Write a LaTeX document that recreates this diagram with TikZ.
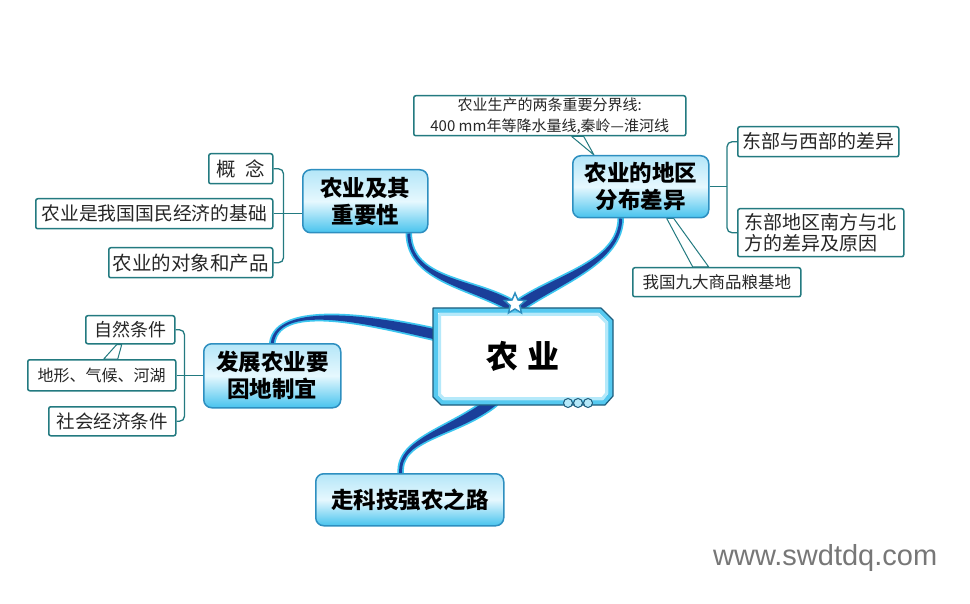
\documentclass[tikz,border=0pt]{standalone}
\usepackage{fontspec}
\setmainfont{Noto Sans CJK SC}
\newfontfamily\wmfont{Liberation Sans}
\usetikzlibrary{calc,shapes.geometric}
\pgfdeclarelayer{bg}
\pgfsetlayers{bg,main}
\definecolor{mainborder}{HTML}{2E8FC0}
\definecolor{boxtop}{HTML}{B4E6F8}
\definecolor{boxmid}{HTML}{E6F8FE}
\definecolor{boxbot}{HTML}{47C3EE}
\definecolor{leafline}{HTML}{237A80}
\definecolor{glow}{HTML}{3CC6F0}
\definecolor{core}{HTML}{1A3F9A}
\definecolor{darkedge}{HTML}{1D5D7D}
\definecolor{band}{HTML}{55C9F0}
\definecolor{softband}{HTML}{B5E9FA}
\definecolor{wm}{HTML}{777777}
\newcommand\tapershape[7]{%
 \path[#1] ($(#2)!#6!90:(#3)$) .. controls ($(#3)!#6!-90:(#2)$) and ($(#4)!#7!90:(#5)$) .. ($(#5)!#7!-90:(#4)$) -- ($(#5)!#7!90:(#4)$) .. controls ($(#4)!#7!-90:(#5)$) and ($(#3)!#6!90:(#2)$) .. ($(#2)!#6!-90:(#3)$) -- cycle;}
\tikzset{
 mainbox/.style={draw=mainborder, line width=1.5pt, rounded corners=8pt, top color=boxtop, bottom color=boxbot, middle color=boxmid, align=center, font=\fontsize{22.5}{27}\selectfont\bfseries, inner sep=0pt, anchor=north west},
 leaf/.style={draw=leafline, line width=1.5pt, rounded corners=2pt, fill=white, inner sep=0pt, anchor=north west, font=\fontsize{19.5}{22}\selectfont, text=black!85},
 bracket/.style={draw=leafline, line width=1.3pt, rounded corners=5pt},
 pointer/.style={draw=leafline, line width=1pt, fill=white, line join=round},
 glowline/.style={draw=glow, line width=3.5pt, fill=glow, line join=round},
 coreline/.style={fill=core},
}
\begin{document}
\begin{tikzpicture}[x=1pt,y=-1pt]
\useasboundingbox (0,0) rectangle (970,604);
\begin{pgfonlayer}{bg}
\fill[white] (0,0) rectangle (970,604);
\end{pgfonlayer}

% main branch boxes
\node[mainbox, minimum width=125pt, minimum height=63pt] (imp) at (302,169) {农业及其\\重要性};
\node[mainbox, minimum width=136pt, minimum height=62pt] (reg) at (572,155) {农业的地区\\分布差异};
\node[mainbox, minimum width=137pt, minimum height=64pt] (dev) at (203,343) {发展农业要\\因地制宜};
\node[mainbox, minimum width=188pt, minimum height=52pt] (sci) at (315,473) {走科技强农之路};

% leaves
\node[leaf, minimum width=64pt, minimum height=30pt] (gn) at (208,153) {概\hspace{9pt}念};
\node[leaf, minimum width=237pt, minimum height=30pt, font=\fontsize{18.8}{22}\selectfont] (jc) at (35,198) {农业是我国国民经济的基础};
\node[leaf, minimum width=164pt, minimum height=30pt] (cp) at (108,247) {农业的对象和产品};
\node[leaf, minimum width=161pt, minimum height=30pt, font=\fontsize{19}{22}\selectfont] (ew) at (737,126) {东部与西部的差异};
\node[leaf, minimum width=166pt, minimum height=48pt, align=left, font=\fontsize{19}{21}\selectfont] (ns) at (737,208) {东部地区南方与北\\方的差异及原因};
\node[leaf, minimum width=272pt, minimum height=40pt, align=center, font=\fontsize{15}{21}\selectfont] (top) at (413,95) {农业生产的两条重要分界线:\\400 mm年等降水量线,秦岭—淮河线};
\node[leaf, minimum width=168pt, minimum height=29pt, font=\fontsize{16.5}{18}\selectfont] (grain) at (632,267) {我国九大商品粮基地};
\node[leaf, minimum width=89pt, minimum height=28pt, font=\fontsize{18}{20}\selectfont] (nat) at (85,315) {自然条件};
\node[leaf, minimum width=148pt, minimum height=31pt, font=\fontsize{16}{18}\selectfont] (geo) at (27,359) {地形、气候、河湖};
\node[leaf, minimum width=127pt, minimum height=29pt, font=\fontsize{18.5}{20}\selectfont] (soc) at (48,406) {社会经济条件};

% center box decoration
\fill[band] (433,308) -- (601,308) -- (613,320) -- (613,396) -- (605,405) -- (441,405) -- (433,397) -- cycle;
\fill[white] (438,313) -- (599,313) -- (608,322) -- (608,394) -- (603,400) -- (443,400) -- (438,395) -- cycle;
\draw[softband, line width=3pt, line join=round] (439.5,314.5) -- (598.5,314.5) -- (606.5,322.5) -- (606.5,393.5) -- (602.5,398.5) -- (443.5,398.5) -- (439.5,394.5) -- cycle;
\draw[darkedge, line width=1.2pt, line join=round] (433,308) -- (601,308) -- (613,320) -- (613,396) -- (605,405) -- (441,405) -- (433,397) -- cycle;
\foreach \cx in {568,578,588}
  \draw[darkedge, fill=softband, line width=1pt] (\cx,403) circle (4.5);
\node[font=\fontsize{32}{32}\selectfont\bfseries, minimum width=180pt, minimum height=97pt] (ctr) at (523,356.5) {农\hspace{10pt}业};
\node[star, star points=5, star point ratio=2.2, minimum size=22pt, inner sep=0pt, fill=white, draw=mainborder, line width=1.5pt] (st) at (515,304) {};

% connectors
\begin{pgfonlayer}{bg}
\coordinate (a0) at ([xshift=43.5pt]imp.south);
\coordinate (a1) at (410,280);
\coordinate (a2) at (468,282);
\coordinate (a3) at ([xshift=-5pt,yshift=-1pt]st.center);
\tapershape{glowline}{a0}{a1}{a2}{a3}{1.5pt}{5pt}
\tapershape{coreline}{a0}{a1}{a2}{a3}{1.5pt}{5pt}

\coordinate (b0) at ([xshift=-20pt]reg.south);
\coordinate (b1) at (620,262);
\coordinate (b2) at (560,278);
\coordinate (b3) at ([xshift=5pt,yshift=-1pt]st.center);
\tapershape{glowline}{b0}{b1}{b2}{b3}{1.5pt}{5pt}
\tapershape{coreline}{b0}{b1}{b2}{b3}{1.5pt}{5pt}

\coordinate (d0) at (dev.north);
\coordinate (d1) at (278,300);
\coordinate (d2) at (380,322);
\coordinate (d3) at ([xshift=3pt,yshift=22pt]ctr.west);
\tapershape{glowline}{d0}{d1}{d2}{d3}{1.5pt}{5pt}
\tapershape{coreline}{d0}{d1}{d2}{d3}{1.5pt}{5pt}

\coordinate (e0) at ([xshift=-9pt]sci.north);
\coordinate (e1) at (398,438);
\coordinate (e2) at (455,432);
\coordinate (e3) at ([xshift=-30pt,yshift=4pt]ctr.south);
\tapershape{glowline}{e0}{e1}{e2}{e3}{1.5pt}{5pt}
\tapershape{coreline}{e0}{e1}{e2}{e3}{1.5pt}{5pt}

% pointers
\draw[pointer] ([xshift=22pt]top.south) -- ([xshift=34pt]top.south) -- ([xshift=22pt]reg.north west) -- cycle;
\draw[pointer] ([xshift=26pt]reg.south) -- ([xshift=33pt]reg.south) -- ([xshift=-8pt]grain.north) -- ([xshift=-24pt]grain.north) -- cycle;
\draw[pointer] ([xshift=2pt]geo.north) -- ([xshift=16pt]geo.north) -- ([xshift=-8.5pt]nat.south) -- ([xshift=-13.5pt]nat.south) -- cycle;
\end{pgfonlayer}

% brackets
\draw[bracket] (gn.east) -- ++(10,0) |- (cp.east);
\draw[bracket] (jc.east) -- (jc.east -| imp.west);
\coordinate (rb) at ([xshift=-10pt]ew.west);
\draw[bracket] (ew.west) -- (rb) |- (ns.west);
\draw[bracket] (reg.east) -- (reg.east -| rb);
\draw[bracket] (nat.east) -- ++(9,0) |- (soc.east);
\draw[bracket] (geo.east) -- (geo.east -| dev.west);

% watermark
\node[font=\wmfont\fontsize{29}{29}\selectfont, text=wm, anchor=west, inner sep=0pt] (wmk) at (713,558) {www.swdtdq.com};
\end{tikzpicture}
\end{document}
